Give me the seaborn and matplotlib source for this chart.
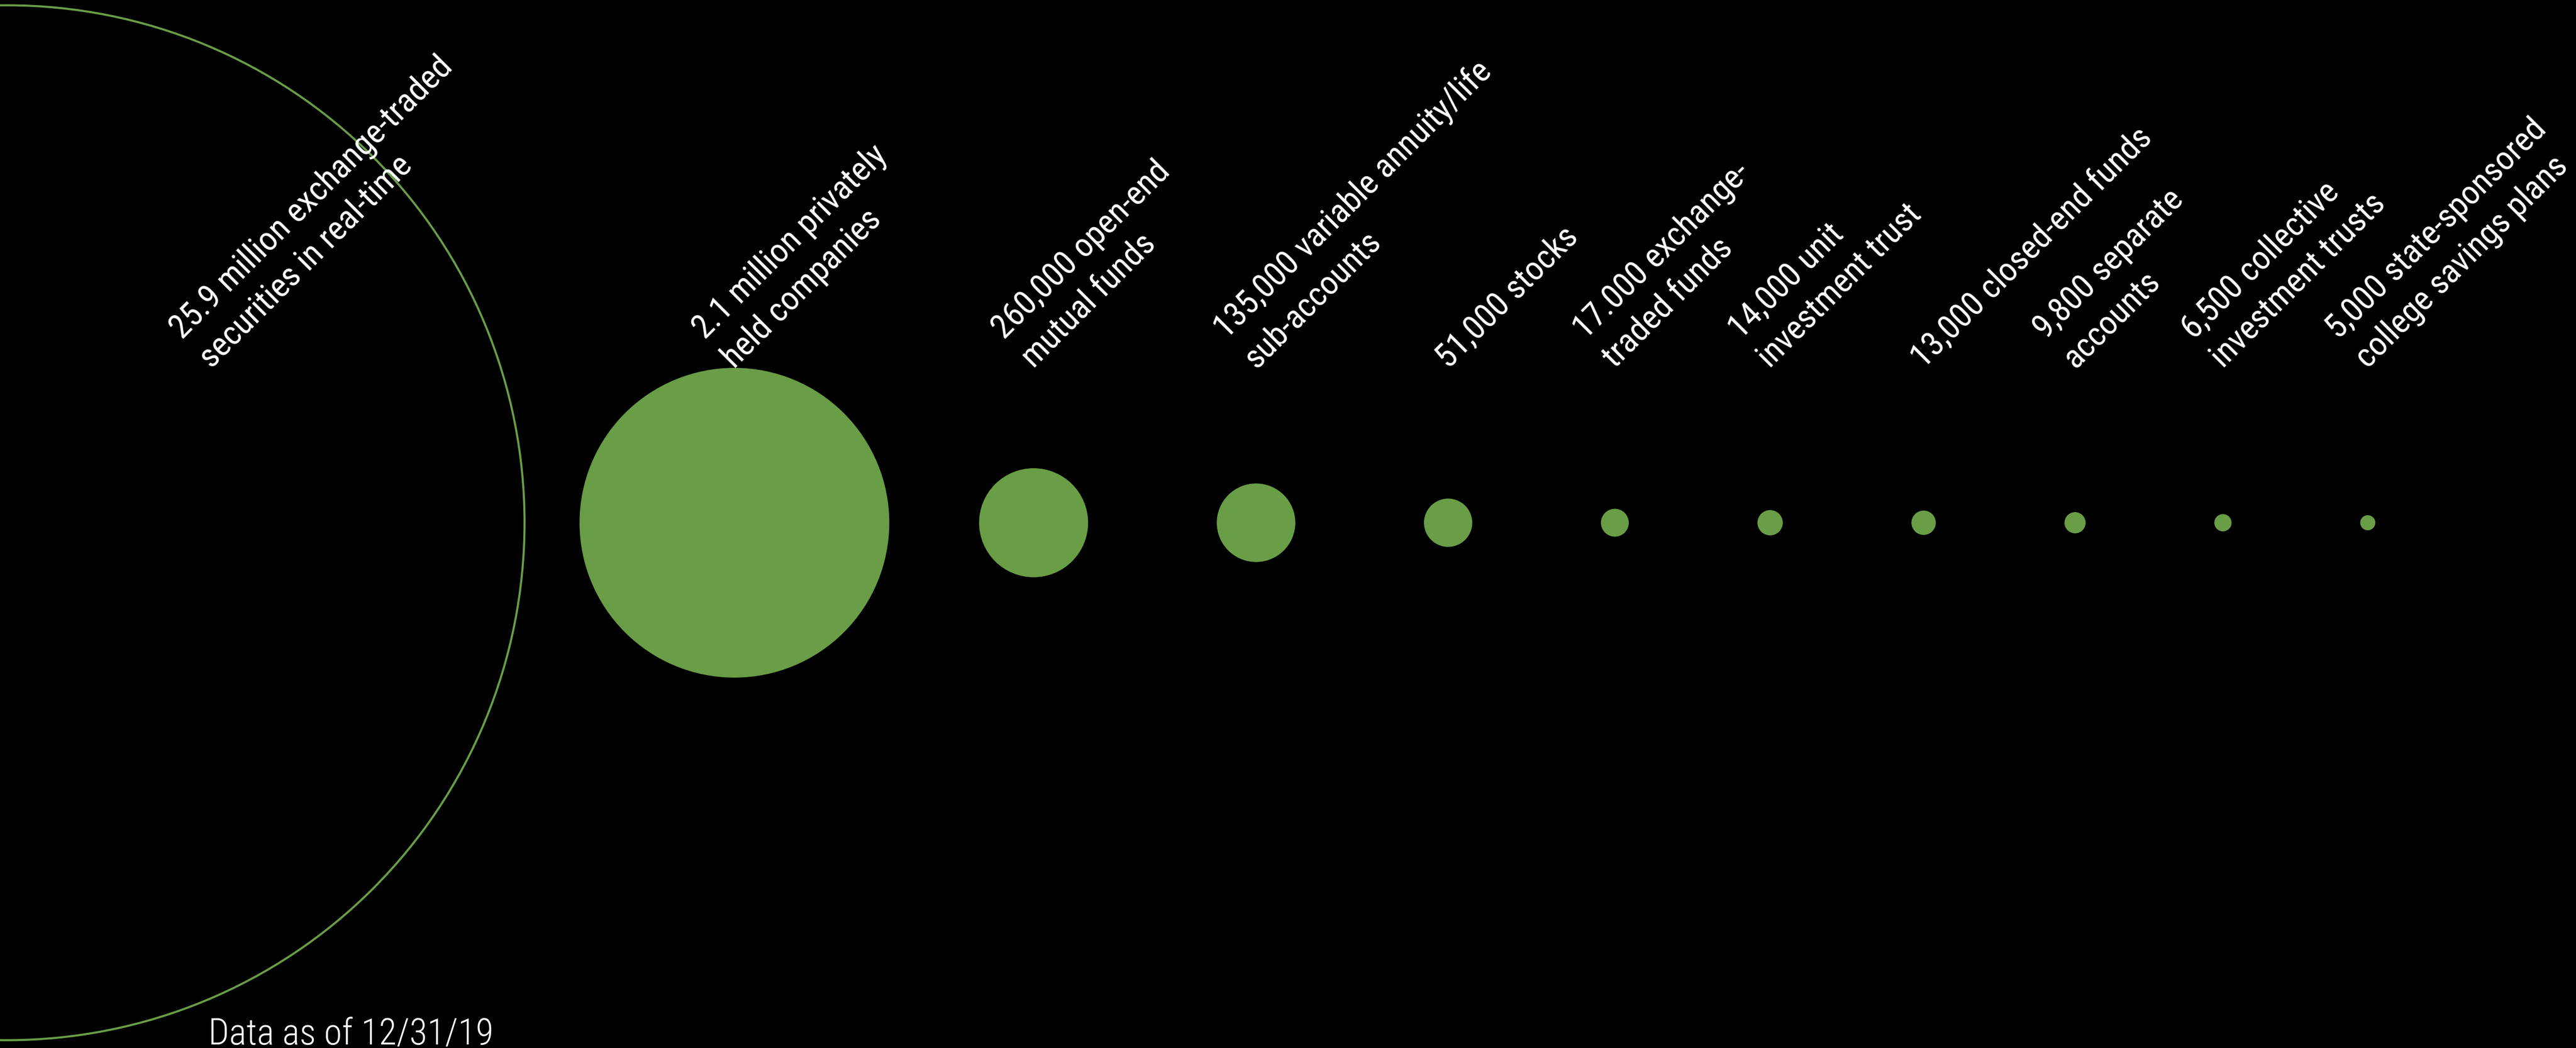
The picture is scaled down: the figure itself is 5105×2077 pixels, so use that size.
import numpy as np
import pandas as pd
import matplotlib.pyplot as plt
import seaborn as sns

# data
categories = [
    'exchange-traded securities', 'privately held companies', 'open-end mutual funds',
    'variable annuity/life sub-accounts', 'stocks', 'exchange-traded funds',
    'unit investment trust', 'closed-end funds', 'separate accounts',
    'collective investment trusts', 'state-sponsored college savings plans',
]
counts = [25_900_000, 2_100_000, 260_000, 135_000, 51_000, 17_000,
          14_000, 13_000, 9_800, 6_500, 5_000]
labels = [
    '25.9 million exchange-traded\nsecurities in real-time',
    '2.1 million privately\nheld companies',
    '260,000 open-end\nmutual funds',
    '135,000 variable annuity/life\nsub-accounts',
    '51,000 stocks',
    '17.000 exchange-\ntraded funds',
    '14,000 unit\ninvestment trust',
    '13,000 closed-end funds',
    '9,800 separate\naccounts',
    '6,500 collective\ninvestment trusts',
    '5,000 state-sponsored\ncollege savings plans',
]
footnote = 'Data as of 12/31/19'

GREEN = '#699d46'
FONT = ['Roboto Condensed', 'Liberation Sans Narrow', 'DejaVu Sans']

# layout (pixel units, axes fill the whole figure)
W, H, DPI = 5105, 2077, 100
k = 0.2118           # radius in px per sqrt(count)
row_y = 1036
ring_x = 14
gap_ring = 109       # ring edge -> first disc
gap_first = 178      # first disc -> second disc
gap = 255            # edge-to-edge gap for the rest
label_y = 742

radii = [k * np.sqrt(v) for v in counts]
# the outer ring is not to scale: it is capped to fit the figure height
radii[0] = min(radii[0], H / 2 - 13)

xs = [ring_x]
for i in range(1, len(counts)):
    g = gap_ring if i == 1 else (gap_first if i == 2 else gap)
    xs.append(xs[-1] + radii[i - 1] + g + radii[i])

df = pd.DataFrame({'category': categories, 'count': counts, 'label': labels,
                   'x': xs, 'y': row_y})

# scatter size is area in pt^2, area proportional to count
smax = (2 * k * np.sqrt(max(counts[1:])) * 72 / DPI) ** 2
ring_s = (2 * radii[0] * 72 / DPI) ** 2

sns.set_style('white')
plt.rcParams['font.family'] = FONT

fig = plt.figure(figsize=(W / DPI, H / DPI), dpi=DPI, facecolor='black')
ax = fig.add_axes([0, 0, 1, 1])
ax.set_facecolor('black')

sns.scatterplot(data=df.iloc[:1], x='x', y='y', size='count', sizes=(ring_s, ring_s),
                color='none', edgecolor=GREEN, linewidth=3.0, legend=False, ax=ax)
sns.scatterplot(data=df.iloc[1:], x='x', y='y', size='count', sizes=(0, smax),
                size_norm=(0, max(counts[1:])), color=GREEN, edgecolor='none',
                linewidth=0, legend=False, ax=ax)

ax.set_xlim(0, W)
ax.set_ylim(H, 0)
ax.set_axis_off()

# labels, rotated 45 degrees, anchored at the bottom-left of the last line
for i, row in df.iterrows():
    lx = row['x'] + 415 if i == 0 else row['x'] + 10
    ax.text(lx, label_y, row['label'], rotation=45, rotation_mode='anchor',
            ha='left', va='bottom', multialignment='left', linespacing=1.36,
            color='white', fontsize=48, family=FONT)

fig.text(413 / W, 7 / H, footnote, ha='left', va='baseline', color='white',
         fontsize=52, fontweight='light', family=FONT)

plt.savefig('out.png', dpi=DPI, facecolor='black')
